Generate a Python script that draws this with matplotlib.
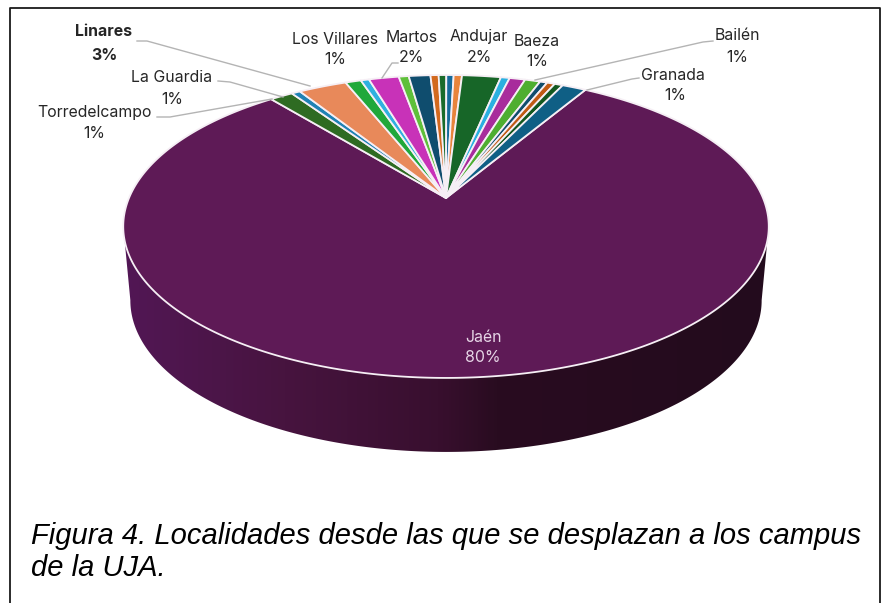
import numpy as np
import matplotlib
matplotlib.use("Agg")
import matplotlib.pyplot as plt
from matplotlib.patches import Polygon
from matplotlib.colors import LinearSegmentedColormap

# Shares (%), in clockwise order starting with Jaén
shares = [80.6, 1.39, 0.53, 2.9, 0.94, 0.5, 1.8, 0.6, 1.3, 0.49, 0.46, 0.44, 0.5,
          2.33, 0.53, 0.94, 0.92, 0.44, 0.47, 0.5, 1.44]
colors = ["#5E1A56", "#2E6B22", "#1F82B5", "#E8895A", "#20A83A", "#2FB0E0", "#C832B8",
          "#5FC03A", "#0F4D6E", "#D2691E", "#1A6B2A", "#156A9A", "#E8843C", "#176628",
          "#2AB0E0", "#A82C9C", "#4EAE30", "#0F4D6E", "#C05A14", "#14581F", "#0F5F85"]
labels = ["Linares", "La Guardia", "Torredelcampo", "Los Villares", "Martos",
          "Andujar", "Baeza", "Bailén", "Granada", "Jaén"]
pcts = ["3%", "1%", "1%", "1%", "2%", "2%", "1%", "1%", "1%", "80%"]
caption = "Figura 4. Localidades desde las que se desplazan a los campus\nde la UJA."

plt.rcParams["font.family"] = ["Inter", "DejaVu Sans"]
fig = plt.figure(figsize=(8.82, 6.03), dpi=100, facecolor="white")
ax = fig.add_axes([0, 0, 1, 1])

# Perspective projection of the unit pie disc onto the page
APEX = (446.0, 198.0)
P, A, C = 0.188, 146.1, 317.0
def project(theta_deg, r=1.0):
    t = np.radians(theta_deg)
    u, v = r * np.sin(t), r * np.cos(t)
    d = 1 + P * v
    return APEX[0] + C * u / d, APEX[1] - A * v / d

# Side wall under the pie: front arc of the lower rim, back along the upper rim
th = np.linspace(-180, 180, 1441)
tx, ty = project(th)
DEPTH, SHRINK = 74.0, 0.978
bx = APEX[0] + (tx - APEX[0]) * SHRINK
by = ty + DEPTH
i_l, i_r = np.argmin(tx), np.argmax(tx)
front = np.r_[i_l:-1:-1, len(th) - 2:i_r - 1:-1]
back = np.arange(i_r, i_l - 1, -1)
side_xy = np.vstack([np.c_[bx[front], by[front]], np.c_[tx[back], ty[back]]])
side = Polygon(side_xy, closed=True, facecolor="none", edgecolor="none")
ax.add_patch(side)
cmap = LinearSegmentedColormap.from_list("wall", [(0, "#521755"), (0.25, "#47143F"),
                                                  (0.49, "#380F2E"), (0.58, "#290C20"),
                                                  (1, "#230B1D")])
im = ax.imshow(np.linspace(0, 1, 400)[None, :], cmap=cmap, aspect="auto",
               extent=(tx.min(), tx.max(), by.max(), ty.min()), zorder=1)
im.set_clip_path(side)

# Top face slices
edges = np.cumsum([0] + shares) / sum(shares) * 360
START = 30.7
for i, col in enumerate(colors):
    a = np.linspace(START + edges[i], START + edges[i + 1], max(3, int(shares[i] * 12)))
    x, y = project(a)
    xy = np.vstack([[APEX], np.c_[x, y]])
    ax.add_patch(Polygon(xy, closed=True, facecolor=col, edgecolor="#F6EFF5",
                         linewidth=1.3, joinstyle="round", zorder=2 + (i > 0)))

# Leader lines
leaders = [[(137, 41), (147, 41), (310, 86)],
           [(218, 81), (230, 82), (283, 97)],
           [(157, 117), (170, 117), (272, 99)],
           [(398, 63), (392, 63), (382, 78)],
           [(713, 41), (703, 42), (535, 80)],
           [(639, 78), (632, 79), (587, 90)]]
for pts in leaders:
    ax.plot(*zip(*pts), color="#B4B4B4", lw=1.0, zorder=5)

# Data labels
lab_pos = [(104, 32), (172, 78), (94, 112), (335, 39), (412, 37),
           (479, 37), (537, 41), (737, 36), (673, 75), (483, 337)]
pct_pos = [(104, 55), (172, 99), (94, 134), (335, 60), (411, 58),
           (479, 58), (537, 62), (737, 58), (675, 96), (483, 358)]
for i, (n, p) in enumerate(zip(labels, pcts)):
    col = "#E6D5E6" if n == "Jaén" else "#262626"
    w = "bold" if n == "Linares" else "normal"
    ax.text(*lab_pos[i], n, ha="center", va="center", fontsize=11.4, color=col, weight=w, zorder=6)
    ax.text(*pct_pos[i], p, ha="center", va="center", fontsize=11.4, color=col, weight=w, zorder=6)

# Caption
ax.text(31, 552, caption, ha="left", va="center", fontsize=21, style="italic",
        family="Liberation Sans", color="black", linespacing=1.16, zorder=6)

# Frame (runs off the bottom of the picture)
ax.plot([9.5, 9.5, 880, 880], [610, 7.5, 7.5, 610], color="#1A1A1A", lw=1.3, zorder=7)

ax.set_xlim(0, 882)
ax.set_ylim(603, 0)
ax.axis("off")
fig.savefig("out.png", dpi=100, facecolor="white")
